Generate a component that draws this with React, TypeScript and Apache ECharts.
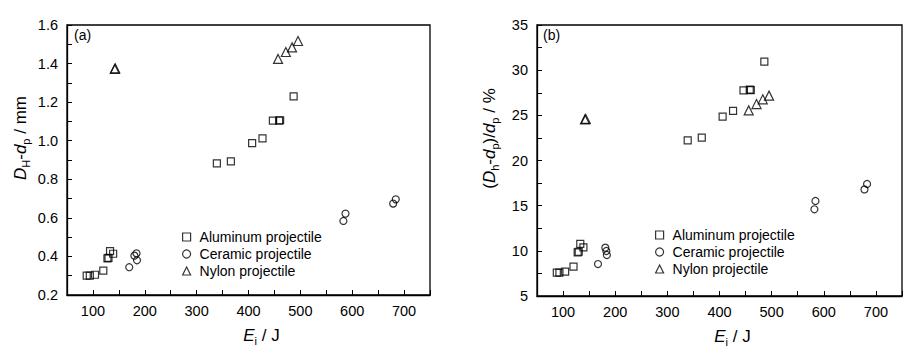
import React, { useEffect, useRef } from "react";
import * as echarts from "echarts";

const FONT = "'Liberation Sans', Arial, sans-serif";

// Panel (a): D_H - d_p (mm) vs impact energy E_i (J)
const alumE_a = [88, 94, 104, 120, 128, 130, 133, 139, 339, 366, 407, 427, 447, 459, 461, 487];
const alumV_a = [0.30, 0.30, 0.305, 0.326, 0.39, 0.393, 0.428, 0.414, 0.883, 0.893, 0.987, 1.012, 1.104, 1.104, 1.106, 1.23];
const ceramE_a = [170, 180, 184, 185, 583, 587, 679, 684];
const ceramV_a = [0.344, 0.404, 0.416, 0.38, 0.584, 0.622, 0.674, 0.696];
const nylonE_a = [142, 143, 457, 472, 484, 495.5];
const nylonV_a = [1.372, 1.375, 1.424, 1.46, 1.484, 1.517];

// Panel (b): (D_h - d_p)/d_p (%) vs E_i (J)
const alumE_b = [88, 93, 104, 120, 128, 130, 133, 139, 339, 366, 406, 426, 446, 458, 460, 486];
const alumV_b = [7.58, 7.58, 7.69, 8.25, 9.84, 9.9, 10.76, 10.39, 22.23, 22.53, 24.85, 25.5, 27.77, 27.85, 27.8, 30.94];
const ceramE_b = [167, 181, 183, 184, 582, 584, 678, 683];
const ceramV_b = [8.54, 10.35, 9.98, 9.54, 14.6, 15.52, 16.8, 17.4];
const nylonE_b = [142, 143.5, 456, 471, 483, 495];
const nylonV_b = [24.55, 24.6, 25.55, 26.25, 26.77, 27.18];

const seriesNames = ["Aluminum projectile", "Ceramic projectile", "Nylon projectile"];
const symbols = ["rect", "circle", "triangle"];

const zip = (xs: number[], ys: number[]) => xs.map((x, i) => [x, ys[i]]);

export default function App() {
  const ref = useRef<HTMLDivElement>(null);
  useEffect(() => {
    if (!ref.current) return;
    const chart = echarts.init(ref.current, null, { renderer: "svg" });
    const markStyle = { color: "rgba(0,0,0,0)", borderColor: "#000", borderWidth: 1.2 };
    const xAxisBase = (gridIndex: number) => ({
      type: "value",
      gridIndex,
      min: 50,
      max: 750,
      interval: 50,
      axisLine: { show: true, onZero: false, lineStyle: { color: "#000", width: 1.3 } },
      axisTick: { show: true, inside: true, length: 5, lineStyle: { color: "#000" } },
      splitLine: { show: false },
      axisLabel: {
        color: "#000",
        fontFamily: FONT,
        fontSize: 14.5,
        margin: 8,
        formatter: (v: number) => (Math.round(v) % 100 === 0 && v < 750 ? String(Math.round(v)) : ""),
      },
      name: "{i|E}{s|i}{n| / J}",
      nameLocation: "middle",
      nameGap: 30,
      nameTextStyle: {
        color: "#000",
        fontFamily: FONT,
        padding: [0, 0, 0, 26],
        rich: {
          i: { fontStyle: "italic", fontSize: 17, fontFamily: FONT, color: "#000" },
          n: { fontSize: 17, fontFamily: FONT, color: "#000" },
          s: { fontSize: 11, fontFamily: FONT, color: "#000", padding: [10, 0, 0, 0] },
        },
      },
    });
    const yRich = {
      i: { fontStyle: "italic", fontSize: 17, fontFamily: FONT, color: "#000" },
      n: { fontSize: 17, fontFamily: FONT, color: "#000" },
      s: { fontSize: 11, fontFamily: FONT, color: "#000", padding: [10, 0, 0, 0] },
    };
    const mkSeries = (name: string, sym: string, idx: number, data: number[][], size: number) => ({
      type: "scatter",
      name,
      xAxisIndex: idx,
      yAxisIndex: idx,
      symbol: sym,
      symbolSize: size,
      itemStyle: markStyle,
      data,
      emphasis: { disabled: true },
    });
    const legendBase = (left: number, top: number) => ({
      orient: "vertical",
      left,
      top,
      itemWidth: 8,
      itemHeight: 8,
      itemGap: 3,
      selectedMode: false,
      textStyle: { color: "#000", fontFamily: FONT, fontSize: 14, padding: [0, 0, 0, 4] },
      itemStyle: markStyle,
      data: seriesNames.map((n, i) => ({ name: n, icon: symbols[i] })),
    });

    chart.setOption({
      animation: false,
      backgroundColor: "#fff",
      grid: [
        { left: 67, top: 25, width: 363, height: 270, show: true, borderColor: "#000", borderWidth: 1.3, backgroundColor: "transparent" },
        { left: 537, top: 25, width: 365, height: 271, show: true, borderColor: "#000", borderWidth: 1.3, backgroundColor: "transparent" },
      ],
      xAxis: [xAxisBase(0), xAxisBase(1)],
      yAxis: [
        {
          type: "value",
          gridIndex: 0,
          min: 0.2,
          max: 1.6,
          interval: 0.1,
          axisLine: { show: true, lineStyle: { color: "#000", width: 1.3 } },
          axisTick: { show: true, inside: true, length: 5, lineStyle: { color: "#000" } },
          splitLine: { show: false },
          axisLabel: {
            color: "#000",
            fontFamily: FONT,
            fontSize: 14.5,
            margin: 9,
            formatter: (v: number) => (Math.round(v * 10) % 2 === 0 ? v.toFixed(1) : ""),
          },
          name: "{i|D}{s|H}{n|-}{i|d}{s|p}{n| / mm}",
          nameLocation: "middle",
          nameRotate: 90,
          nameGap: 36,
          nameTextStyle: { color: "#000", fontFamily: FONT, padding: [0, 0, 0, 44], rich: yRich },
        },
        {
          type: "value",
          gridIndex: 1,
          min: 5,
          max: 35,
          interval: 2.5,
          axisLine: { show: true, lineStyle: { color: "#000", width: 1.3 } },
          axisTick: { show: true, inside: true, length: 5, lineStyle: { color: "#000" } },
          splitLine: { show: false },
          axisLabel: {
            color: "#000",
            fontFamily: FONT,
            fontSize: 14.5,
            margin: 9,
            formatter: (v: number) => (Math.round(v * 2) % 10 === 0 ? String(Math.round(v)) : ""),
          },
          name: "{n|(}{i|D}{s|h}{n|-}{i|d}{s|p}{n|)/}{i|d}{s|p}{n| / %}",
          nameLocation: "middle",
          nameRotate: 90,
          nameGap: 37,
          nameTextStyle: { color: "#000", fontFamily: FONT, padding: [0, 0, 0, 44], rich: yRich },
        },
      ],
      legend: [legendBase(177, 225), legendBase(650, 223)],
      graphic: [
        { type: "text", left: 74, top: 28, style: { text: "(a)", font: `14px ${FONT}`, fill: "#000" } },
        { type: "text", left: 543, top: 28, style: { text: "(b)", font: `14px ${FONT}`, fill: "#000" } },
      ],
      series: [
        mkSeries(seriesNames[0], "rect", 0, zip(alumE_a, alumV_a), 7),
        mkSeries(seriesNames[1], "circle", 0, zip(ceramE_a, ceramV_a), 7),
        mkSeries(seriesNames[2], "triangle", 0, zip(nylonE_a, nylonV_a), 9),
        mkSeries(seriesNames[0], "rect", 1, zip(alumE_b, alumV_b), 7),
        mkSeries(seriesNames[1], "circle", 1, zip(ceramE_b, ceramV_b), 7),
        mkSeries(seriesNames[2], "triangle", 1, zip(nylonE_b, nylonV_b), 9),
      ],
    });
    return () => chart.dispose();
  }, []);
  return <div ref={ref} style={{ position: "fixed", left: 0, top: 0, width: 920, height: 354 }} />;
}
